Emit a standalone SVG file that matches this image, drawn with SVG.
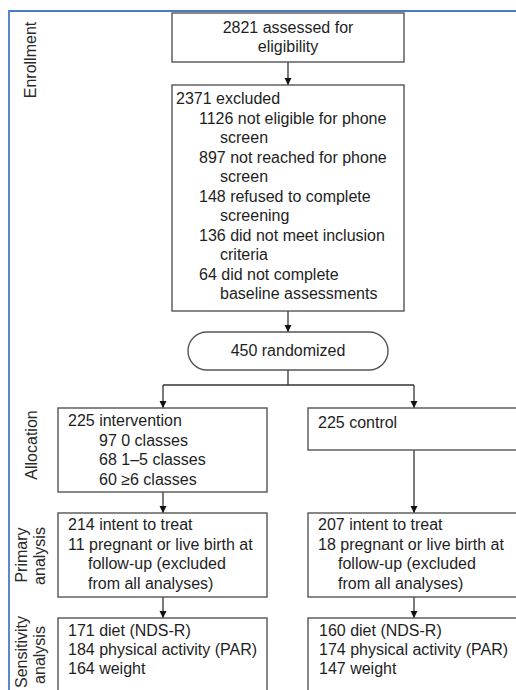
<svg xmlns="http://www.w3.org/2000/svg" width="516" height="690" viewBox="0 0 516 690">
<defs>
<marker id="arr" markerWidth="8" markerHeight="8" refX="7" refY="4" orient="auto" markerUnits="userSpaceOnUse">
<path d="M0,0.5 L7,4 L0,7.5 Z" fill="#111"/>
</marker>
<style>
.box{fill:#fff;stroke:#555;stroke-width:1.4}
.t{font-family:"Liberation Sans",Arial,sans-serif;font-size:16px;fill:#1e1e1e}
.c{text-anchor:middle}
.lbl{font-family:"Liberation Sans",Arial,sans-serif;font-size:16px;fill:#2a2a2a;text-anchor:middle}
.ln{fill:none;stroke:#333;stroke-width:1.3}
.frame{fill:none;stroke:#4a7cc4;stroke-width:1.8}
</style>
</defs>
<rect width="516" height="690" fill="#fff"/>
<path class="frame" d="M9,690 L9,11 L516,11"/>

<g id="labels">
<text class="lbl" transform="translate(36,60) rotate(-90)">Enrollment</text>
<text class="lbl" transform="translate(37,445) rotate(-90)">Allocation</text>
<text class="lbl" transform="translate(27,555) rotate(-90)">Primary</text>
<text class="lbl" transform="translate(45,556) rotate(-90)">analysis</text>
<text class="lbl" transform="translate(27,652) rotate(-90)">Sensitivity</text>
<text class="lbl" transform="translate(45,655) rotate(-90)">analysis</text>
</g>

<g id="connectors">
<path class="ln" d="M288,62 L288,85" marker-end="url(#arr)"/>
<path class="ln" d="M288,311 L288,332" marker-end="url(#arr)"/>
<path class="ln" d="M288,370 L288,385 M163,385 L414,385"/>
<path class="ln" d="M163,385 L163,408" marker-end="url(#arr)"/>
<path class="ln" d="M414,385 L414,408" marker-end="url(#arr)"/>
<path class="ln" d="M163,492 L163,513" marker-end="url(#arr)"/>
<path class="ln" d="M414,450 L414,513" marker-end="url(#arr)"/>
<path class="ln" d="M163,597 L163,618" marker-end="url(#arr)"/>
<path class="ln" d="M414,597 L414,618" marker-end="url(#arr)"/>
</g>

<g id="assessed">
<rect class="box" x="172" y="13" width="232" height="49"/>
<text class="t c" x="288" y="33">2821 assessed for</text>
<text class="t c" x="288" y="52">eligibility</text>
</g>

<g id="excluded">
<rect class="box" x="172" y="85" width="232" height="226"/>
<text class="t" x="176" y="104">2371 excluded</text>
<text class="t" x="199" y="123.5">1126 not eligible for phone</text>
<text class="t" x="220" y="143">screen</text>
<text class="t" x="199" y="162.5">897 not reached for phone</text>
<text class="t" x="220" y="182">screen</text>
<text class="t" x="199" y="201.5">148 refused to complete</text>
<text class="t" x="220" y="221">screening</text>
<text class="t" x="199" y="240.5">136 did not meet inclusion</text>
<text class="t" x="220" y="260">criteria</text>
<text class="t" x="199" y="279.5">64 did not complete</text>
<text class="t" x="220" y="299">baseline assessments</text>
</g>

<g id="randomized">
<rect class="box" x="188" y="332" width="200" height="38" rx="19" ry="19"/>
<text class="t c" x="288" y="356">450 randomized</text>
</g>

<g id="intervention">
<rect class="box" x="58" y="408" width="209" height="84"/>
<text class="t" x="68" y="426">225 intervention</text>
<text class="t" x="99" y="445.5">97 0 classes</text>
<text class="t" x="99" y="465">68 1–5 classes</text>
<text class="t" x="99" y="484.5">60 ≥6 classes</text>
</g>

<g id="control">
<rect class="box" x="308" y="408" width="215" height="42"/>
<text class="t" x="318" y="428">225 control</text>
</g>

<g id="primary-intervention">
<rect class="box" x="58" y="513" width="209" height="84"/>
<text class="t" x="68" y="530">214 intent to treat</text>
<text class="t" x="68" y="549.5">11 pregnant or live birth at</text>
<text class="t" x="88" y="569">follow-up (excluded</text>
<text class="t" x="88" y="588.5">from all analyses)</text>
</g>

<g id="primary-control">
<rect class="box" x="308" y="513" width="215" height="84"/>
<text class="t" x="318" y="530">207 intent to treat</text>
<text class="t" x="318" y="549.5">18 pregnant or live birth at</text>
<text class="t" x="338" y="569">follow-up (excluded</text>
<text class="t" x="338" y="588.5">from all analyses)</text>
</g>

<g id="sensitivity-intervention">
<rect class="box" x="58" y="618" width="209" height="80"/>
<text class="t" x="68" y="636">171 diet (NDS-R)</text>
<text class="t" x="68" y="655">184 physical activity (PAR)</text>
<text class="t" x="68" y="674">164 weight</text>
</g>

<g id="sensitivity-control">
<rect class="box" x="308" y="618" width="215" height="80"/>
<text class="t" x="319" y="636">160 diet (NDS-R)</text>
<text class="t" x="319" y="655">174 physical activity (PAR)</text>
<text class="t" x="319" y="674">147 weight</text>
</g>
</svg>
